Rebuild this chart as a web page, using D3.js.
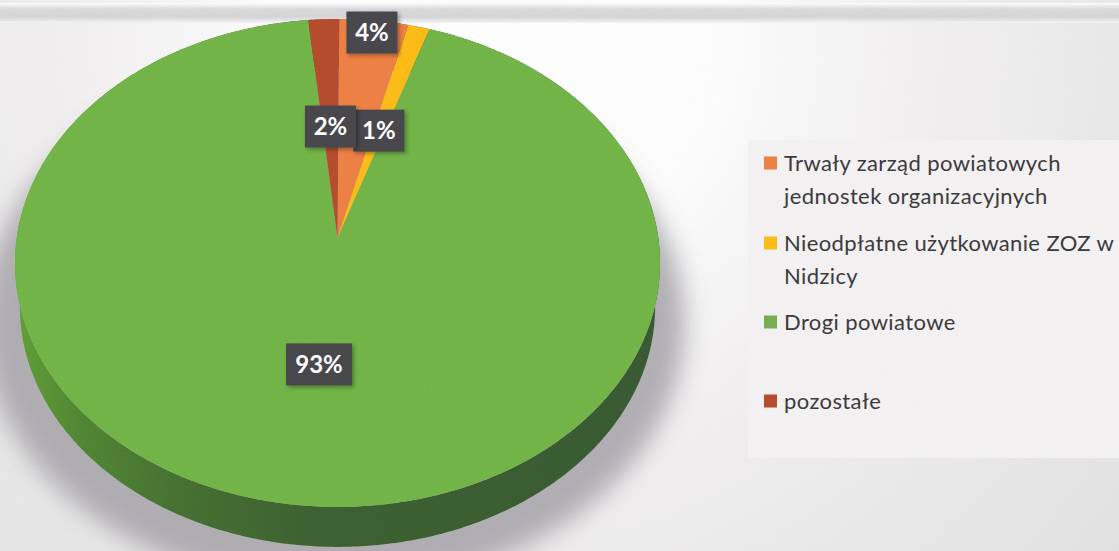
<!DOCTYPE html>
<html lang="pl">
<head>
<meta charset="utf-8">
<script src="https://cdn.jsdelivr.net/npm/d3@7"></script>
<style>
html,body{margin:0;padding:0;background:#fff;overflow:hidden}
svg{display:block}
text{font-family:Lato,"Open Sans",sans-serif}
</style>
</head>
<body>
<svg id="chart" width="1119" height="551" viewBox="0 0 1119 551"></svg>
<script>
// ---- Data ----
const categories = ["Trwały zarząd powiatowych jednostek organizacyjnych", "Nieodpłatne użytkowanie ZOZ w Nidzicy", "Drogi powiatowe", "pozostałe"];
const values = [3.8, 1.2, 93.3, 1.7];
const legendLines = [["Trwały zarząd powiatowych", "jednostek organizacyjnych"], ["Nieodpłatne użytkowanie ZOZ w", "Nidzicy"], ["Drogi powiatowe"], ["pozostałe"]];

// ---- Styling and layout ----
const colors = ["#ee7f42", "#fdbb13", "#71b445", "#b5492a"];
const legendColors = ["#ee7f42", "#fdbb13", "#74ad4e", "#b5492a"];
const labelRadius = [0.94, 0.485, 0.5, 0.485];
const legendY = [163, 243, 322, 401];
const W = 1119, H = 551;
const cx = 337.5, cy = 238, A = 241.4, B = 320.8, persp = 0.1024, depth = 44, baseShrink = 0.985;
const pieRotation = 0.006;

const svg = d3.select("#chart");
const defs = svg.append("defs");

// Perspective projection of the disc: angle clockwise from the top, radius 0..1
function proj(a, r, scale = 1, dy = 0) {
  const s = Math.sin(a) * r, c = Math.cos(a) * r, w = 1 + persp * c;
  return [cx + scale * B * s / w, cy + dy + scale * (-A * c / w)];
}
const line = d3.line();
const arcAngles = (a0, a1) => {
  const n = Math.max(2, Math.ceil((a1 - a0) / 0.01));
  return d3.range(n + 1).map(i => a0 + (a1 - a0) * i / n);
};
const pieData = d3.pie().sort(null).value(d => d)
  .startAngle(pieRotation).endAngle(2 * Math.PI + pieRotation)(values);

// ---- Paper background ----
const paper = defs.append("radialGradient").attr("id", "paper").attr("gradientUnits", "userSpaceOnUse")
  .attr("cx", 500).attr("cy", 40).attr("r", 800);
[[0, "#ffffff"], [0.28, "#fdfdfd"], [0.5, "#f3f1f2"], [0.8, "#e9e8e8"], [1, "#e3e2e2"]].forEach(([o, c]) =>
  paper.append("stop").attr("offset", o).attr("stop-color", c));
svg.append("rect").attr("width", W).attr("height", H).attr("fill", "url(#paper)");

const band = defs.append("linearGradient").attr("id", "band").attr("x1", 0).attr("x2", 0).attr("y1", 0).attr("y2", 1);
[[0, "#ffffff"], [0.3, "#dadadc"], [0.7, "#d6d6d9"], [1, "#f6f6f6"]].forEach(([o, c]) =>
  band.append("stop").attr("offset", o).attr("stop-color", c));
svg.append("rect").attr("y", 3).attr("width", W).attr("height", 20).attr("fill", "url(#band)");

// lighter panel behind the legend
svg.append("rect").attr("x", 748).attr("y", 140).attr("width", W - 748).attr("height", 318).attr("fill", "#f4f2f2");

// ---- Shadow under the pie ----
defs.append("filter").attr("id", "blur").attr("x", "-20%").attr("y", "-20%").attr("width", "140%").attr("height", "140%")
  .append("feGaussianBlur").attr("stdDeviation", 12);
svg.append("path")
  .attr("d", line(arcAngles(0, 2 * Math.PI).map(a => proj(a, 1, 1.09, 58))) + "Z")
  .attr("transform", "translate(-4,0)")
  .attr("fill", "#a5a3a8").attr("opacity", 0.85).attr("filter", "url(#blur)");

// ---- Pie side wall ----
const wall = defs.append("linearGradient").attr("id", "wall").attr("gradientUnits", "userSpaceOnUse")
  .attr("x1", 15).attr("x2", 660).attr("y1", 0).attr("y2", 0);
[[0, "#5f9f33"], [0.1, "#4f8530"], [0.25, "#436f2e"], [0.45, "#3a5f2d"], [1, "#35572f"]].forEach(([o, c]) =>
  wall.append("stop").attr("offset", o).attr("stop-color", c));

const sides = svg.append("g");
sides.selectAll("path").data(pieData).join("path")
  .attr("d", d => {
    const as = arcAngles(d.startAngle, d.endAngle);
    const top = as.map(a => proj(a, 1));
    const bot = as.slice().reverse().map(a => proj(a, 1, baseShrink, depth));
    return line(top.concat(bot)) + "Z";
  })
  .attr("fill", "url(#wall)");

// ---- Pie top face ----
const faces = svg.append("g");
faces.selectAll("path").data(pieData).join("path")
  .attr("d", d => line([proj(0, 0)].concat(arcAngles(d.startAngle, d.endAngle).map(a => proj(a, 1)))) + "Z")
  .attr("fill", (d, i) => colors[i]);

// ---- Data labels ----
defs.append("filter").attr("id", "lblShadow").attr("x", "-20%").attr("y", "-20%").attr("width", "150%").attr("height", "150%")
  .append("feDropShadow").attr("dx", 2).attr("dy", 2).attr("stdDeviation", 2).attr("flood-color", "#000").attr("flood-opacity", 0.35);
const fmt = d3.format(".0f");
const labels = svg.append("g").selectAll("g").data(pieData).join("g")
  .attr("transform", (d, i) => {
    const p = proj((d.startAngle + d.endAngle) / 2, labelRadius[i]);
    return `translate(${p[0]},${p[1]})`;
  });
labels.append("rect")
  .attr("x", d => d.value > 10 ? -33 : -25.5).attr("y", -21)
  .attr("width", d => d.value > 10 ? 66 : 51).attr("height", 42)
  .attr("fill", "#454549").attr("filter", "url(#lblShadow)");
labels.append("text")
  .attr("text-anchor", "middle").attr("dy", "0.36em")
  .attr("font-size", 24).attr("font-weight", 700).attr("fill", "#fff")
  .text(d => fmt(d.value) + "%");

// ---- Legend ----
const legend = svg.append("g").selectAll("g").data(categories).join("g");
legend.append("rect")
  .attr("x", 764).attr("y", (d, i) => legendY[i] - 6.5).attr("width", 13).attr("height", 13)
  .attr("fill", (d, i) => legendColors[i]);
legend.each(function(d, i) {
  d3.select(this).selectAll("text").data(legendLines[i]).join("text")
    .attr("x", 784).attr("y", (t, j) => legendY[i] + 7.5 + j * 33)
    .attr("font-size", 22).attr("letter-spacing", 0.4).attr("fill", "#37373a")
    .text(t => t);
});

// ---- Faint scan grain over the whole picture ----
const grain = defs.append("filter").attr("id", "grain").attr("x", 0).attr("y", 0).attr("width", "100%").attr("height", "100%");
grain.append("feTurbulence").attr("type", "fractalNoise").attr("baseFrequency", 0.7).attr("numOctaves", 2).attr("seed", 4);
grain.append("feColorMatrix").attr("type", "saturate").attr("values", 0);
svg.append("rect").attr("width", W).attr("height", H).attr("filter", "url(#grain)").attr("opacity", 0.06).attr("pointer-events", "none");
</script>
</body>
</html>
